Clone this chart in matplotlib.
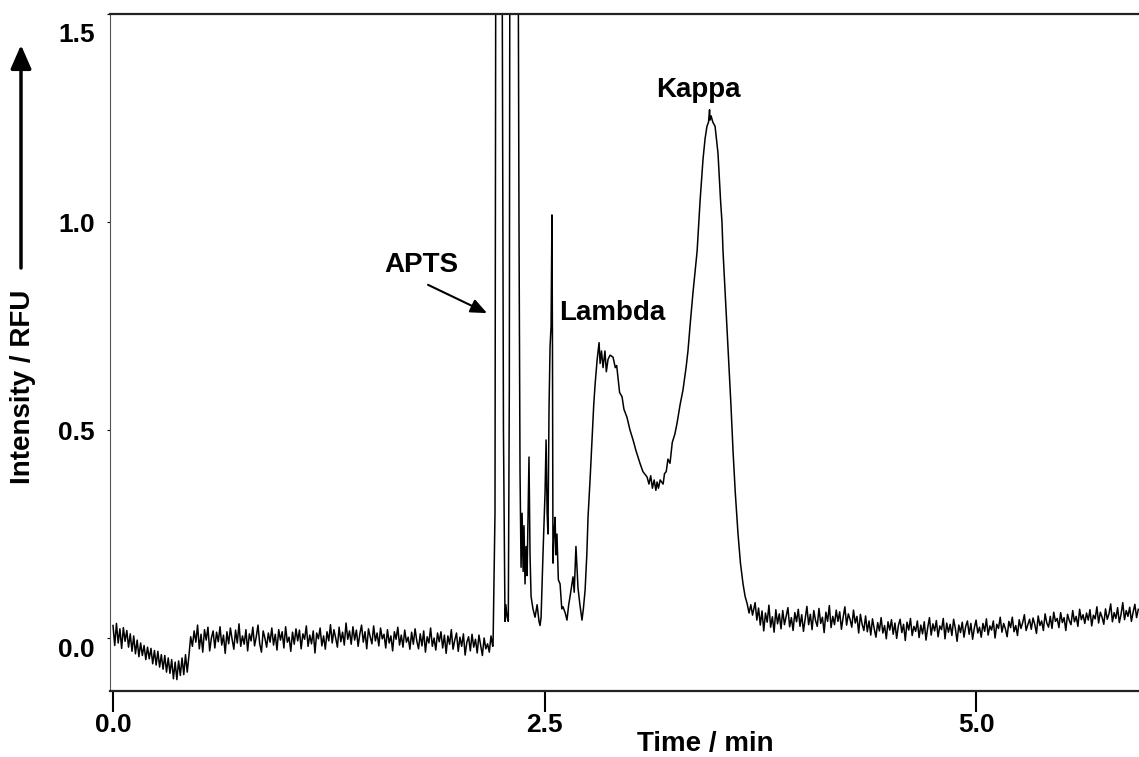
import numpy as np
import matplotlib
matplotlib.use("Agg")
import matplotlib.pyplot as plt
from matplotlib.transforms import ScaledTranslation

plt.rcParams['font.family'] = ['Liberation Sans', 'DejaVu Sans']
plt.rcParams['font.weight'] = 'bold'

# --- trace (intensity in mRFU for the noisy baseline parts) ---
# baseline with the early dip, 0.00 .. 0.44 min
dip_start, dip_end = 0.00, 0.44
dip_mrfu = [30, -18, 35, -12, 22, -25, 25, -8, 18, -22, 10, -32, 5, -38, -5, -45,
            -12, -42, -18, -52, -22, -50, -25, -62, -30, -65, -32, -70, -40, -75,
            -42, -82, -48, -85, -52, -98, -58, -100, -55, -90, -48, -88, -40, -82, -42]

# flat baseline, 0.45 .. 2.20 min
base1_start, base1_end = 0.45, 2.20
base1_mrfu = [
    3, -20, 17, -10, 31, -26, 9, -34, 20, -5, 26, -31, 0, 17, -24, 14,
    -9, 27, -17, 7, -37, 15, -14, 24, -3, -27, 19, -12, 34, -20, 5, -15,
    20, -31, 10, -7, 26, -19, 3, 31, -14, -34, 17, 0, -22, 12, -10, 24,
    -17, 9, -29, 20, -5, 15, -24, 27, -10, 2, -32, 14, -15, 22, -7, 19,
    -26, 10, -3, 29, -20, 7, -14, 17, -36, 12, -2, 24, -19, 5, -27, 15,
    -7, 32, -12, 20, 0, -22, 26, -9, 14, -17, 36, -3, 17, -15, 27, -5,
    19, -20, 10, 31, -10, 15, -26, 22, 3, -14, 29, -7, 12, -19, 24, -2,
    9, -24, 20, -12, 5, -31, 15, -3, 26, -17, 7, -22, 19, -10, 2, -27,
    14, -15, 22, -7, -26, 10, -19, 17, -34, 3, -12, 24, -20, 0, -29, 12,
    -9, 15, -24, 7, -37, 5, -15, 20, -27, -5, 12, -32, 2, -20, 10, -41,
    -10, 3, -31, 9, -22, -3, -36, 7, -17, -42, 0, -26, -14, -34, 5, -20]

# APTS / Lambda / Kappa region (RFU)
peak_time = [2.202, 2.213, 2.222, 2.231, 2.242, 2.252, 2.262, 2.271, 2.276, 2.283,
             2.290, 2.296, 2.303, 2.315, 2.329, 2.345, 2.352, 2.358, 2.364, 2.370,
             2.376, 2.381, 2.387, 2.393, 2.399, 2.405, 2.410, 2.416, 2.422, 2.433,
             2.445, 2.457, 2.468, 2.474, 2.480, 2.491, 2.503, 2.509, 2.515, 2.520,
             2.526, 2.532, 2.538, 2.543, 2.546, 2.549, 2.555, 2.561, 2.566, 2.572,
             2.580, 2.590, 2.600, 2.607, 2.620, 2.630, 2.640, 2.648, 2.655, 2.665,
             2.672, 2.682, 2.688, 2.694, 2.705, 2.717, 2.725, 2.735, 2.745, 2.752,
             2.765, 2.775, 2.785, 2.793, 2.805, 2.816, 2.822, 2.830, 2.839, 2.850,
             2.858, 2.868, 2.880, 2.897, 2.910, 2.918, 2.926, 2.935, 2.949, 2.960,
             2.978, 2.995, 3.013, 3.030, 3.053, 3.070, 3.094, 3.105, 3.115, 3.125,
             3.135, 3.145, 3.152, 3.160, 3.170, 3.187, 3.195, 3.205, 3.215, 3.227,
             3.240, 3.255, 3.268, 3.285, 3.302, 3.320, 3.331, 3.345, 3.360, 3.372,
             3.384, 3.401, 3.418, 3.430, 3.441, 3.450, 3.456, 3.459, 3.465, 3.475,
             3.488, 3.505, 3.520, 3.528, 3.534, 3.550, 3.563, 3.580, 3.592, 3.605,
             3.621, 3.635, 3.650, 3.662, 3.673, 3.685, 3.695, 3.705]
peak_rfu = [-0.010, 0.300, 3.000, 3.000, 3.000, 2.000, 0.500, 0.040, 0.080, 0.050,
            0.040, 0.600, 3.000, 3.000, 3.000, 2.000, 1.000, 0.400, 0.170, 0.300,
            0.160, 0.270, 0.130, 0.220, 0.150, 0.300, 0.435, 0.200, 0.100, 0.070,
            0.050, 0.080, 0.040, 0.030, 0.050, 0.200, 0.350, 0.476, 0.300, 0.250,
            0.550, 0.700, 0.750, 1.017, 0.700, 0.180, 0.250, 0.290, 0.200, 0.250,
            0.140, 0.130, 0.070, 0.075, 0.060, 0.043, 0.080, 0.100, 0.120, 0.147,
            0.110, 0.220, 0.170, 0.120, 0.080, 0.043, 0.070, 0.115, 0.200, 0.290,
            0.390, 0.476, 0.560, 0.610, 0.670, 0.710, 0.660, 0.690, 0.650, 0.690,
            0.640, 0.670, 0.680, 0.675, 0.650, 0.655, 0.625, 0.590, 0.580, 0.550,
            0.530, 0.500, 0.476, 0.450, 0.420, 0.400, 0.387, 0.370, 0.390, 0.360,
            0.380, 0.355, 0.375, 0.360, 0.380, 0.370, 0.395, 0.400, 0.430, 0.420,
            0.470, 0.490, 0.517, 0.560, 0.596, 0.650, 0.690, 0.760, 0.830, 0.880,
            0.930, 1.050, 1.150, 1.200, 1.230, 1.240, 1.270, 1.245, 1.255, 1.240,
            1.230, 1.165, 1.050, 1.000, 0.930, 0.800, 0.690, 0.560, 0.450, 0.350,
            0.250, 0.180, 0.130, 0.100, 0.084, 0.060, 0.080, 0.055]

# baseline after the peaks, 3.72 .. 5.94 min
base2_start, base2_end = 3.72, 5.94
base2_mrfu = [
    85, 43, 72, 31, 65, 17, 60, 38, 79, 26, 51, 14, 68, 34, 58, 22,
    66, 32, 52, 73, 27, 49, 18, 61, 39, 69, 28, 56, 16, 47, 76, 32,
    57, 20, 66, 42, 28, 71, 35, 50, 13, 62, 40, 78, 25, 52, 32, 67,
    40, 63, 21, 50, 75, 31, 58, 45, 26, 67, 36, 52, 12, 57, 33, 18,
    53, 15, 41, 7, 46, 22, 2, 37, 17, 49, 12, 30, -2, 39, 19, 44,
    9, 36, -1, 30, 45, 13, 33, -6, 38, 19, 47, 6, 28, 16, 41, 1,
    31, 10, 39, -5, 25, 49, 7, 34, 17, 42, 3, 29, 20, 47, -2, 36,
    14, 33, 6, 45, 23, -8, 31, 13, 38, 2, 28, 41, 9, 35, -3, 24,
    43, 12, 26, 2, 35, 16, 46, 7, 29, 19, 41, 0, 33, 23, 50, 14,
    35, 22, 3, 40, 25, 50, 15, 30, 6, 44, 23, 37, 56, 18, 32, 45,
    21, 48, 33, 11, 53, 30, 41, 18, 58, 36, 26, 52, 23, 62, 40, 47,
    25, 61, 37, 49, 18, 57, 42, 32, 66, 39, 52, 28, 69, 44, 56, 35,
    60, 43, 68, 29, 55, 46, 75, 36, 62, 50, 33, 70, 45, 58, 82, 39,
    61, 47, 73, 37, 57, 85, 44, 66, 52, 74, 40, 62, 81, 49, 69]

x_ticks = [0.0, 2.5, 5.0]
x_ticklabels = ["0.0", "2.5", "5.0"]
y_ticks = [0.0, 0.5, 1.0, 1.5]
y_ticklabels = ["0.0", "0.5", "1.0", "1.5"]

# --- assemble the trace ---
t = np.concatenate([
    np.linspace(dip_start, dip_end, len(dip_mrfu)),
    np.linspace(base1_start, base1_end, len(base1_mrfu)),
    np.array(peak_time),
    np.linspace(base2_start, base2_end, len(base2_mrfu)),
])
y = np.concatenate([
    np.array(dip_mrfu) / 1000.0,
    np.array(base1_mrfu) / 1000.0,
    np.array(peak_rfu),
    np.array(base2_mrfu) / 1000.0,
])

W, H = 1139, 757
fig = plt.figure(figsize=(W / 100, H / 100), dpi=100)
ax = fig.add_axes([110 / W, 66 / H, 1029 / W, 677 / H])

ax.plot(t, y, color="black", lw=1.1)

ax.set_xlim(-0.0174, 5.944)
ax.set_ylim(-0.1274, 1.5)

ax.spines['right'].set_visible(False)
ax.spines['top'].set_linewidth(1.6)
ax.spines['top'].set_color('#222222')
ax.spines['bottom'].set_linewidth(1.6)
ax.spines['bottom'].set_color('#222222')
ax.spines['left'].set_linewidth(0.8)
ax.spines['left'].set_color('#555555')

ax.set_xticks(x_ticks)
ax.set_xticklabels(x_ticklabels)
ax.set_yticks(y_ticks)
ax.set_yticklabels(y_ticklabels)
ax.tick_params(axis='x', direction='out', length=15, width=1.5, pad=1, labelsize=19)
ax.tick_params(axis='y', direction='out', length=2, width=0.8, pad=9, labelsize=19)
for lab in ax.get_xticklabels() + ax.get_yticklabels():
    lab.set_fontweight('bold')

# the scanned y labels sit a bit off the tick positions
ylabs = ax.get_yticklabels()
ylabs[0].set_transform(ylabs[0].get_transform() + ScaledTranslation(0, -0.09, fig.dpi_scale_trans))
ylabs[-1].set_transform(ylabs[-1].get_transform() + ScaledTranslation(0, -0.19, fig.dpi_scale_trans))

# axis titles
fig.text(705 / W, 0.5 / H, "Time / min", ha="center", va="bottom", fontsize=20, fontweight="bold")
fig.text(23 / W, (H - 387) / H, "Intensity / RFU", rotation=90, ha="center", va="center",
         fontsize=20, fontweight="bold")
ax.annotate("", xy=(21, H - 45), xytext=(21, H - 268), xycoords="figure pixels",
            textcoords="figure pixels",
            arrowprops=dict(arrowstyle="-|>,head_length=0.8,head_width=0.35",
                            lw=2.5, color="black", mutation_scale=18, shrinkA=0, shrinkB=0))

# peak labels
ax.text(1.784, 0.880, "APTS", ha="center", va="baseline", fontsize=20, fontweight="bold")
ax.annotate("", xy=(2.167, 0.781), xytext=(1.825, 0.849),
            arrowprops=dict(arrowstyle="-|>,head_length=0.7,head_width=0.3",
                            lw=1.5, color="black", mutation_scale=14, shrinkA=0, shrinkB=0))
ax.text(2.891, 0.764, "Lambda", ha="center", va="baseline", fontsize=20, fontweight="bold")
ax.text(3.389, 1.300, "Kappa", ha="center", va="baseline", fontsize=20, fontweight="bold")

fig.savefig("out.png", dpi=100)
